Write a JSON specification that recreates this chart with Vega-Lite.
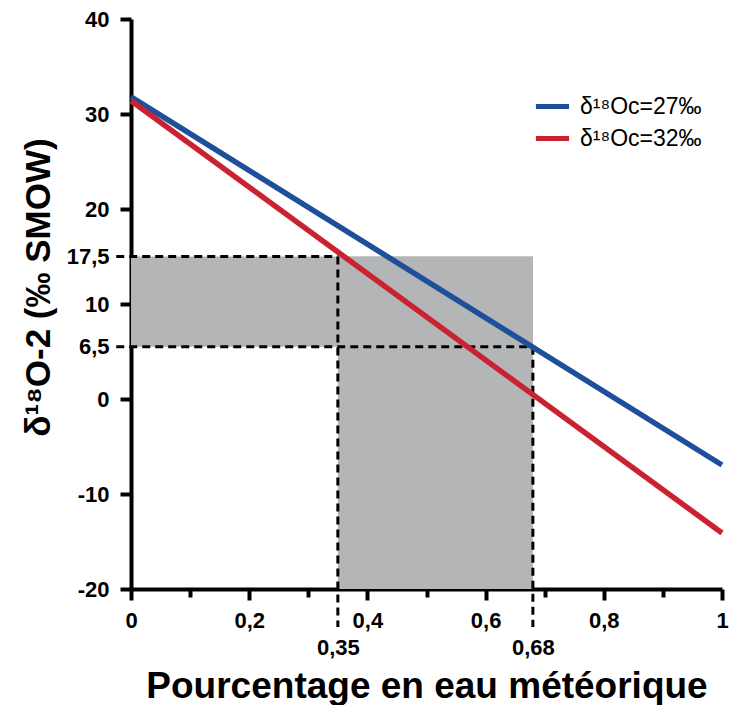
{
  "$schema": "https://vega.github.io/schema/vega-lite/v6.json",
  "width": 591,
  "height": 570,
  "autosize": "none",
  "padding": {"left": 131, "top": 19, "right": 7, "bottom": 116},
  "background": "white",
  "config": {"view": {"stroke": null}},
  "encoding": {
    "x": {
      "field": "x", "type": "quantitative",
      "scale": {"domain": [0, 1], "nice": false, "zero": false},
      "axis": {
        "values": [0, 0.1, 0.2, 0.3, 0.35, 0.4, 0.5, 0.6, 0.68, 0.7, 0.8, 0.9, 1],
        "labelExpr": "indexof([0.1,0.3,0.5,0.7,0.9], datum.value) >= 0 ? '' : replace('' + datum.value, '.', ',')",
        "tickColor": {"condition": {"test": "datum.value == 0.35 || datum.value == 0.68", "value": "transparent"}, "value": "black"},
        "tickSize": {"condition": {"test": "indexof([0.1,0.3,0.5,0.7,0.9], datum.value) >= 0", "value": 8}, "value": 11},
        "labelPadding": {"condition": {"test": "datum.value == 0.35 || datum.value == 0.68", "value": 37}, "value": 10},
        "tickWidth": 4, "domainWidth": 4, "domainColor": "black", "grid": false,
        "labelFlush": false, "labelOverlap": false, "labelBound": false,
        "labelFont": "Liberation Sans", "labelFontWeight": "bold", "labelFontSize": 22, "labelColor": "black",
        "title": "Pourcentage en eau météorique",
        "titleFont": "Liberation Sans", "titleFontWeight": "bold", "titleFontSize": 37, "titleColor": "black",
        "titleY": 108, "titleBaseline": "alphabetic"
      }
    },
    "y": {
      "field": "y", "type": "quantitative",
      "scale": {"domain": [-20, 40], "nice": false, "zero": false},
      "axis": {
        "values": [-20, -10, 0, 5.5, 10, 15, 20, 30, 40],
        "labelExpr": "datum.value == 15 ? '17,5' : datum.value == 5.5 ? '6,5' : '' + datum.value",
        "tickColor": {"condition": {"test": "datum.value == 15 || datum.value == 5.5", "value": "transparent"}, "value": "black"},
        "tickSize": 11, "tickWidth": 4, "domainWidth": 4, "domainColor": "black", "grid": false,
        "labelPadding": 11, "labelFlush": false, "labelOverlap": false, "labelBound": false,
        "labelFont": "Liberation Sans", "labelFontWeight": "bold", "labelFontSize": 22, "labelColor": "black",
        "title": "δ¹⁸O-2 (‰ SMOW)",
        "titleFont": "Liberation Sans", "titleFontWeight": "bold", "titleFontSize": 35, "titleColor": "black",
        "titleX": -93, "titleY": 268, "titleAngle": -90, "titleAlign": "center", "titleBaseline": "middle"
      }
    }
  },
  "layer": [
    {
      "data": {"values": [
        {"x": 0, "x2": 0.68, "y": 5.5, "y2": 15},
        {"x": 0.35, "x2": 0.68, "y": -20, "y2": 15}
      ]},
      "mark": {"type": "rect", "color": "#b3b5b7", "opacity": 1},
      "encoding": {"x2": {"field": "x2"}, "y2": {"field": "y2"}}
    },
    {
      "data": {"values": [
        {"x": -0.025, "x2": 0.35, "y": 15, "y2": 15},
        {"x": -0.025, "x2": 0.68, "y": 5.5, "y2": 5.5},
        {"x": 0.35, "x2": 0.35, "y": 15, "y2": -24},
        {"x": 0.68, "x2": 0.68, "y": 5.5, "y2": -24}
      ]},
      "mark": {"type": "rule", "color": "black", "strokeWidth": 3, "strokeDash": [8, 5]},
      "encoding": {"x2": {"field": "x2"}, "y2": {"field": "y2"}}
    },
    {
      "data": {"values": [
        {"s": "δ¹⁸Oc=27‰", "x": 0, "y": 31.8},
        {"s": "δ¹⁸Oc=27‰", "x": 1, "y": -6.95},
        {"s": "δ¹⁸Oc=32‰", "x": 0, "y": 31.4},
        {"s": "δ¹⁸Oc=32‰", "x": 1, "y": -14.1}
      ]},
      "mark": {"type": "line", "strokeWidth": 5.5},
      "encoding": {
        "color": {
          "field": "s", "type": "nominal",
          "scale": {"domain": ["δ¹⁸Oc=27‰", "δ¹⁸Oc=32‰"], "range": ["#1d4f9b", "#cb2231"]},
          "legend": {
            "title": null, "orient": "none", "legendX": 402, "legendY": 68, "padding": 0,
            "symbolType": "stroke", "symbolStrokeWidth": 5, "symbolSize": 1100,
            "labelFont": "Liberation Sans", "labelFontSize": 23, "labelColor": "black",
            "labelOffset": 8, "rowPadding": 0
          }
        }
      }
    }
  ]
}
